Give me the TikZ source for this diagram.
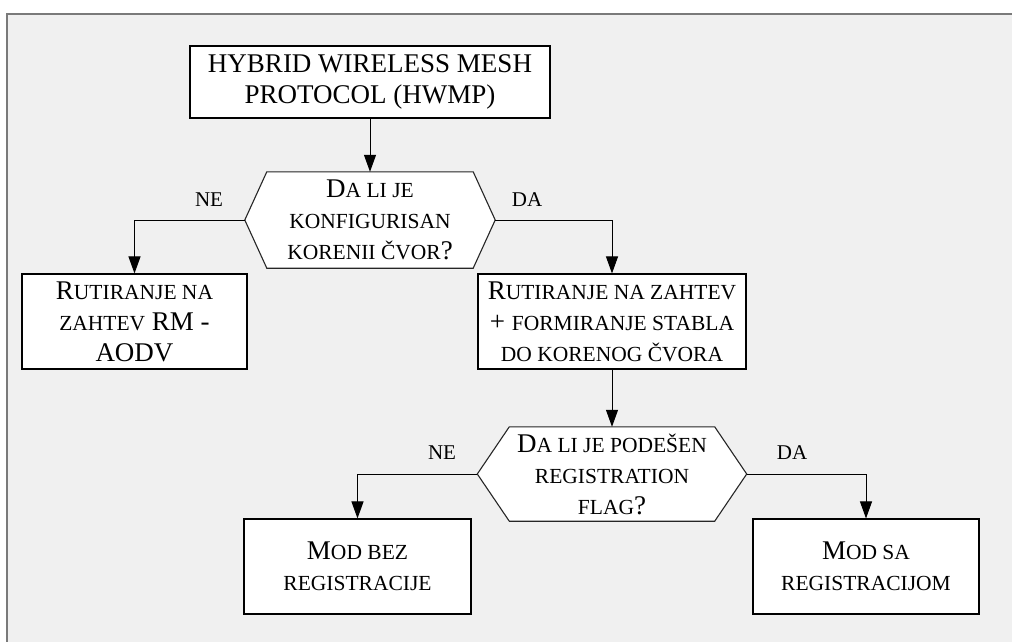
\documentclass[tikz,border=0pt]{standalone}
\usepackage{fontspec}
\setmainfont{Liberation Serif}
\usetikzlibrary{arrows.meta, calc}
\pgfdeclarelayer{background}
\pgfsetlayers{background,main}
\definecolor{panel}{HTML}{F0F0F0}
\definecolor{frame}{HTML}{7A7A7A}
\newcommand{\smc}[1]{{\fontsize{21.5}{31}\selectfont #1}}
\tikzset{
  box/.style={draw=black, fill=white, line width=1.1pt, align=center, inner sep=0pt, font=\fontsize{27}{31}\selectfont},
  decision/.style={align=center, inner sep=0pt, font=\fontsize{27}{31}\selectfont},
  hexline/.style={draw=black!85, fill=white, line width=1.1pt, line join=miter},
  conn/.style={draw=black, line width=1pt, -{Triangle[length=17pt, width=12pt]}},
  lbl/.style={font=\fontsize{21}{25}\selectfont}
}

\begin{document}
\begin{tikzpicture}[x=1pt, y=-1pt]
\useasboundingbox (0,0) rectangle (1012,642);

% Boxes
\node[box, minimum width=360pt, minimum height=72pt] (hwmp) at (370,82) {HYBRID WIRELESS MESH\\PROTOCOL (HWMP)};
\node[decision, minimum width=250pt, minimum height=96pt] (root) at (370,220) {D\smc{A LI JE}\\\smc{KONFIGURISAN}\\\smc{KORENII ČVOR}?};
\node[box, minimum width=225pt, minimum height=95pt] (ondemand) at (134.5,321.5) {R\smc{UTIRANJE NA}\\\smc{ZAHTEV} RM -\\AODV};
\node[box, minimum width=268pt, minimum height=95pt] (tree) at (612,321.5) {R\smc{UTIRANJE NA ZAHTEV}\\+ \smc{FORMIRANJE STABLA}\\\smc{DO KORENOG ČVORA}};
\node[decision, minimum width=269pt, minimum height=94pt] (regflag) at (612,474) {D\smc{A LI JE PODEŠEN}\\\smc{REGISTRATION}\\\smc{FLAG}?};
\node[box, minimum width=227pt, minimum height=95pt] (noreg) at (357.5,566.5) {M\smc{OD BEZ}\\\smc{REGISTRACIJE}};
\node[box, minimum width=226pt, minimum height=95pt] (withreg) at (866,566.5) {M\smc{OD SA}\\\smc{REGISTRACIJOM}};

% Panel and hexagons
\begin{pgfonlayer}{background}
\fill[panel] (7,14) rectangle (1012,642);
\draw[frame, line width=1.5pt] (7,642) -- (7,14) -- (1012,14);
\draw[hexline] (root.west) -- ($(root.north west)+(22,0)$) -- ($(root.north east)+(-22,0)$) -- (root.east) -- ($(root.south east)+(-22,0)$) -- ($(root.south west)+(22,0)$) -- cycle;
\draw[hexline] (regflag.west) -- ($(regflag.north west)+(32,0)$) -- ($(regflag.north east)+(-32,0)$) -- (regflag.east) -- ($(regflag.south east)+(-32,0)$) -- ($(regflag.south west)+(32,0)$) -- cycle;
\end{pgfonlayer}

% Labels
\node[lbl] (ne1) at (209,200) {NE};
\node[lbl] (da1) at (527,200) {DA};
\node[lbl] (ne2) at (442,453) {NE};
\node[lbl] (da2) at (792,453) {DA};

% Connectors
\draw[conn] (hwmp) -- (root);
\draw[conn] (root.west) -| (ondemand.north);
\draw[conn] (root.east) -| (tree.north);
\draw[conn] (tree) -- (regflag);
\draw[conn] (regflag.west) -| (noreg.north);
\draw[conn] (regflag.east) -| (withreg.north);
\end{tikzpicture}
\end{document}
